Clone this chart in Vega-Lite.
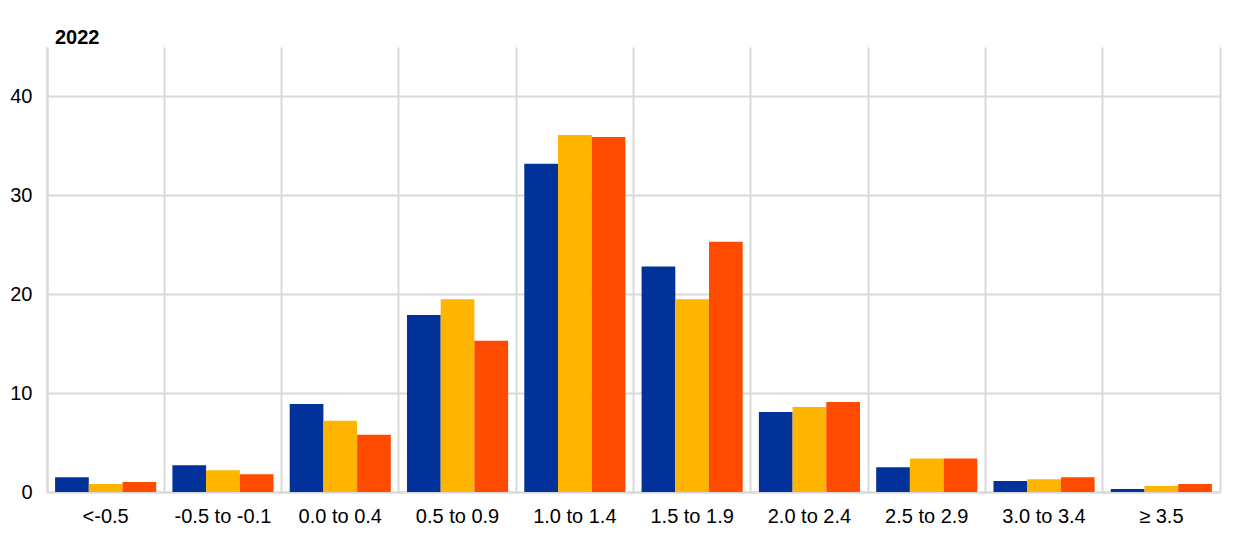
{
  "$schema": "https://vega.github.io/schema/vega-lite/v6.json",
  "autosize": {"type": "none"},
  "width": 1173,
  "height": 445,
  "padding": {"left": 47, "top": 47, "right": 20, "bottom": 48},
  "background": "white",
  "title": {"text": "2022", "anchor": "start", "frame": "group", "dx": 8, "offset": -1, "font": "Liberation Sans", "fontSize": 20, "fontWeight": "bold", "color": "#000000"},
  "config": {
    "view": {"stroke": null},
    "axis": {"labelFont": "Liberation Sans", "labelFontSize": 20, "labelColor": "#000000", "gridColor": "#d9d9d9", "gridWidth": 2, "domainColor": "#d9d9d9", "domainWidth": 2, "ticks": false, "title": null}
  },
  "data": {"values": [
    {"bin": "<-0.5", "series": "s1", "value": 1.5},
    {"bin": "<-0.5", "series": "s2", "value": 0.8},
    {"bin": "<-0.5", "series": "s3", "value": 1.0},
    {"bin": "-0.5 to -0.1", "series": "s1", "value": 2.7},
    {"bin": "-0.5 to -0.1", "series": "s2", "value": 2.2},
    {"bin": "-0.5 to -0.1", "series": "s3", "value": 1.8},
    {"bin": "0.0 to 0.4", "series": "s1", "value": 8.9},
    {"bin": "0.0 to 0.4", "series": "s2", "value": 7.2},
    {"bin": "0.0 to 0.4", "series": "s3", "value": 5.8},
    {"bin": "0.5 to 0.9", "series": "s1", "value": 17.9},
    {"bin": "0.5 to 0.9", "series": "s2", "value": 19.5},
    {"bin": "0.5 to 0.9", "series": "s3", "value": 15.3},
    {"bin": "1.0 to 1.4", "series": "s1", "value": 33.2},
    {"bin": "1.0 to 1.4", "series": "s2", "value": 36.1},
    {"bin": "1.0 to 1.4", "series": "s3", "value": 35.9},
    {"bin": "1.5 to 1.9", "series": "s1", "value": 22.8},
    {"bin": "1.5 to 1.9", "series": "s2", "value": 19.5},
    {"bin": "1.5 to 1.9", "series": "s3", "value": 25.3},
    {"bin": "2.0 to 2.4", "series": "s1", "value": 8.1},
    {"bin": "2.0 to 2.4", "series": "s2", "value": 8.6},
    {"bin": "2.0 to 2.4", "series": "s3", "value": 9.1},
    {"bin": "2.5 to 2.9", "series": "s1", "value": 2.5},
    {"bin": "2.5 to 2.9", "series": "s2", "value": 3.4},
    {"bin": "2.5 to 2.9", "series": "s3", "value": 3.4},
    {"bin": "3.0 to 3.4", "series": "s1", "value": 1.1},
    {"bin": "3.0 to 3.4", "series": "s2", "value": 1.3},
    {"bin": "3.0 to 3.4", "series": "s3", "value": 1.5},
    {"bin": "≥ 3.5", "series": "s1", "value": 0.3},
    {"bin": "≥ 3.5", "series": "s2", "value": 0.6},
    {"bin": "≥ 3.5", "series": "s3", "value": 0.8}
  ]},
  "layer": [
    {
      "mark": {"type": "bar"},
      "encoding": {
        "x": {"field": "bin", "type": "nominal", "sort": null,
              "scale": {"paddingInner": 0, "paddingOuter": 0},
              "axis": {"labelAngle": 0, "labelPadding": 14, "grid": true, "bandPosition": 0, "domain": true}},
        "xOffset": {"field": "series", "type": "nominal", "sort": ["s1", "s2", "s3"],
                    "scale": {"paddingInner": 0, "paddingOuter": 0.24}},
        "y": {"field": "value", "type": "quantitative",
              "scale": {"domain": [0, 45], "nice": false},
              "axis": {"values": [0, 10, 20, 30, 40], "labelPadding": 15, "domain": true, "grid": true}},
        "color": {"field": "series", "type": "nominal", "legend": null,
                  "scale": {"domain": ["s1", "s2", "s3"], "range": ["#003299", "#FFB400", "#FF4B00"]}}
      }
    },
    {
      "mark": {"type": "rule", "opacity": 0},
      "encoding": {
        "y": {"datum": 0, "type": "quantitative",
              "scale": {"domain": [0, 45], "nice": false},
              "axis": {"orient": "right", "labels": false, "grid": false, "domain": true, "values": []}}
      }
    }
  ],
  "resolve": {"scale": {"y": "independent"}, "axis": {"y": "independent"}}
}
